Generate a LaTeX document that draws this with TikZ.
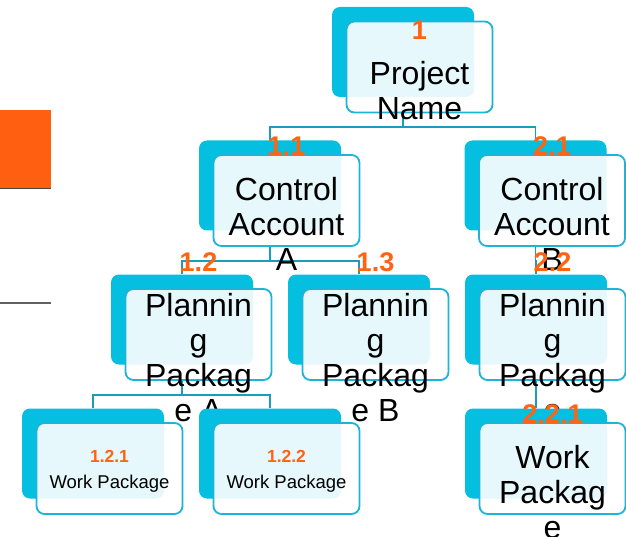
\documentclass[tikz,border=0pt]{standalone}
\usepackage{fontspec}
\setmainfont{Liberation Sans}
\usetikzlibrary{positioning,backgrounds}

\definecolor{wbsback}{HTML}{05BFE0}
\definecolor{wbsedge}{HTML}{1DB4D8}
\definecolor{wbsline}{HTML}{1A9DB8}
\definecolor{wbsorange}{HTML}{FF6314}
\definecolor{barorange}{HTML}{FF5F10}
\definecolor{rulegray}{HTML}{454545}

% orange WBS numbers: large for the upper boxes, small for work packages
\newcommand{\wbsno}[1]{{\color{wbsorange}\bfseries\fontsize{27}{30}\selectfont #1}}
\newcommand{\wpno}[1]{{\color{wbsorange}\bfseries\fontsize{17.5}{21}\selectfont #1}}

\begin{document}
\begin{tikzpicture}[x=1pt,y=-1pt,
  backbox/.style={fill=wbsback,rounded corners=8pt,minimum width=142pt,minimum height=90pt,inner sep=0pt},
  frontbox/.style={draw=wbsedge,line width=1.8pt,fill=white,fill opacity=0.9,rounded corners=8pt,minimum width=146pt,minimum height=91pt,inner sep=0pt},
  bigtext/.style={align=center,font=\fontsize{32}{35}\selectfont,inner sep=0pt},
  smalltext/.style={align=center,font=\fontsize{18.5}{22}\selectfont,inner sep=0pt},
  link/.style={draw=wbsline,line width=1.8pt}]
  \useasboundingbox (0,0) rectangle (626,537);

  % side marks
  \fill[barorange] (0,110) rectangle (51,188);
  \draw[rulegray,line width=1.5pt] (0,188.5) -- (51,188.5);
  \draw[rulegray!85,line width=1.5pt] (0,303) -- (51,303);

  % level 1
  \node[backbox] (b1) at (403,52) {};
  \node[frontbox] (f1) at ([shift={(16.5,15)}]b1) {};
  \node[bigtext] (t1) at ([shift={(0,3)}]f1) {\wbsno{1}\\[10pt]Project\\Name};

  % level 2
  \node[backbox] (b11) at (270,185.5) {};
  \node[frontbox] (f11) at ([shift={(16.5,15)}]b11) {};
  \node[bigtext] (t11) at ([shift={(0,3)}]f11) {\wbsno{1.1}\\[10pt]Control\\Account\\A};
  \node[backbox] (b21) at (535.5,185.5) {};
  \node[frontbox] (f21) at ([shift={(16.5,15)}]b21) {};
  \node[bigtext] (t21) at ([shift={(0,3)}]f21) {\wbsno{2.1}\\[10pt]Control\\Account\\B};

  % level 3
  \node[backbox] (b12) at (182,319.5) {};
  \node[frontbox] (f12) at ([shift={(16.5,15)}]b12) {};
  \node[bigtext] (t12) at ([shift={(0,3)}]f12) {\wbsno{1.2}\\[10pt]Plannin\\g\\Packag\\e A};
  \node[backbox] (b13) at (359,319.5) {};
  \node[frontbox] (f13) at ([shift={(16.5,15)}]b13) {};
  \node[bigtext] (t13) at ([shift={(0,3)}]f13) {\wbsno{1.3}\\[10pt]Plannin\\g\\Packag\\e B};
  \node[backbox] (b22) at (536,319.5) {};
  \node[frontbox] (f22) at ([shift={(16.5,15)}]b22) {};
  \node[bigtext] (t22) at ([shift={(0,3)}]f22) {\wbsno{2.2}\\[10pt]Plannin\\g\\Packag\\e};

  % level 4
  \node[backbox] (b121) at (93,453.5) {};
  \node[frontbox] (f121) at ([shift={(16.5,15)}]b121) {};
  \node[smalltext] (t121) at ([shift={(0,3)}]f121) {\wpno{1.2.1}\\[4pt]Work Package};
  \node[backbox] (b122) at (270,453.5) {};
  \node[frontbox] (f122) at ([shift={(16.5,15)}]b122) {};
  \node[smalltext] (t122) at ([shift={(0,3)}]f122) {\wpno{1.2.2}\\[4pt]Work Package};
  \node[backbox] (b221) at (536,453.5) {};
  \node[frontbox] (f221) at ([shift={(16.5,15)}]b221) {};
  \node[bigtext] (t221) at ([shift={(0,3)}]f221) {\wbsno{2.2.1}\\[10pt]Work\\Packag\\e};

  % tree links
  \begin{scope}[on background layer]
    \draw[link] (b1 |- f1.south) -- ++(0,14) -| (b11.north);
    \draw[link] (b1 |- f1.south) -- ++(0,14) -| (b21.north);
    \draw[link] (b11 |- f11.south) -- ++(0,14) -| (b12.north);
    \draw[link] (b11 |- f11.south) -- ++(0,14) -| (b13.north);
    \draw[link] (b21 |- f21.south) -- ++(0,14) -| (b22.north);
    \draw[link] (b12 |- f12.south) -- ++(0,14) -| (b121.north);
    \draw[link] (b12 |- f12.south) -- ++(0,14) -| (b122.north);
    \draw[link] (b22 |- f22.south) -- ++(0,14) -| (b221.north);
  \end{scope}
\end{tikzpicture}
\end{document}
